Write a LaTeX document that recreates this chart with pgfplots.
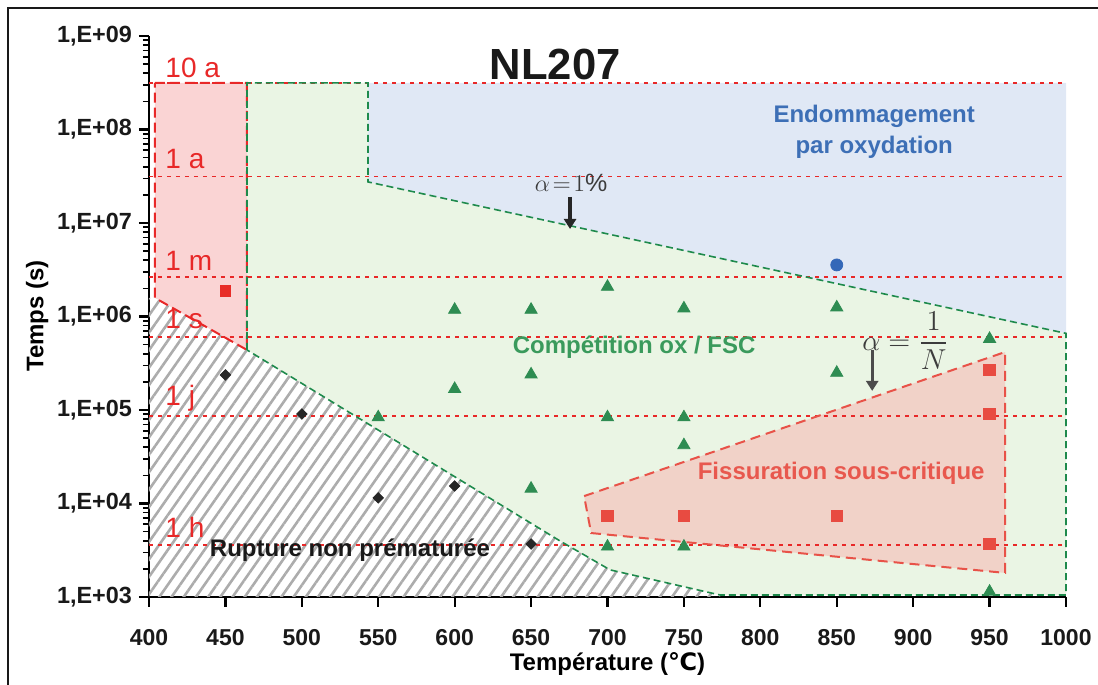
\documentclass[border=0pt]{standalone}
\usepackage{fontspec}
\setmainfont{Liberation Sans}
\newfontfamily\dejavu{DejaVu Sans}
\usepackage{amsmath}
\usepackage{pgfplots}
\pgfplotsset{compat=1.18}
\usetikzlibrary{patterns.meta,arrows.meta}

\definecolor{redline}{RGB}{232,40,40}
\definecolor{redfill}{RGB}{250,212,212}
\definecolor{greenfill}{RGB}{234,245,228}
\definecolor{bluefill}{RGB}{224,232,245}
\definecolor{fissfill}{RGB}{241,210,200}
\definecolor{fissline}{RGB}{232,82,72}
\definecolor{greenline}{RGB}{30,138,76}
\definecolor{greentext}{RGB}{58,154,92}
\definecolor{bluetext}{RGB}{61,111,182}
\definecolor{fisstext}{RGB}{232,88,78}
\definecolor{trigreen}{RGB}{46,140,82}
\definecolor{sqred}{RGB}{232,45,40}
\definecolor{sqred2}{RGB}{232,75,65}
\definecolor{dotblue}{RGB}{52,104,184}
\definecolor{hatchgray}{RGB}{172,172,172}
\definecolor{annot}{RGB}{60,60,60}

\tikzset{timelabel/.style={anchor=base west, text=redline, inner sep=0pt,
  font=\fontsize{14}{16}\selectfont}}
\pgfplotsset{timeline/.style={draw=redline, line width=0.9pt, dash pattern=on 2pt off 2.5pt}}

\begin{document}
\begin{tikzpicture}
\begin{axis}[
  scale only axis, width=458.5pt, height=280.5pt,
  xmin=400, xmax=1000, ymin=1e3, ymax=1e9, ymode=log,
  axis x line*=bottom, axis y line*=left,
  axis line style={line width=1.4pt, -},
  tick align=outside,
  major tick length=5pt, minor tick length=3pt,
  every tick/.style={black, line width=1.1pt},
  every minor tick/.style={line width=0.8pt},
  xtick={400,450,...,1000},
  xticklabels={400,450,500,550,600,650,700,750,800,850,900,950,1000},
  ytick={1e3,1e4,1e5,1e6,1e7,1e8,1e9},
  yticklabels={{1,E+03},{1,E+04},{1,E+05},{1,E+06},{1,E+07},{1,E+08},{1,E+09}},
  minor ytick={2e3,3e3,4e3,5e3,6e3,7e3,8e3,9e3,
    2e4,3e4,4e4,5e4,6e4,7e4,8e4,9e4,
    2e5,3e5,4e5,5e5,6e5,7e5,8e5,9e5,
    2e6,3e6,4e6,5e6,6e6,7e6,8e6,9e6,
    2e7,3e7,4e7,5e7,6e7,7e7,8e7,9e7,
    2e8,3e8,4e8,5e8,6e8,7e8,8e8,9e8},
  xticklabel style={font=\bfseries\fontsize{11.5}{13}\selectfont, text=black!90, yshift=-7.5pt},
  yticklabel style={font=\bfseries\fontsize{11.7}{13}\selectfont, text=black!90},
  xlabel={Température ({\dejavu ℃})},
  ylabel={Temps (s)},
  xlabel style={at={(axis description cs:0.5,-0.12)}, anchor=center,
    font=\bfseries\fontsize{12}{14}\selectfont},
  ylabel style={at={(axis description cs:-0.122,0.501)}, anchor=center,
    font=\bfseries\fontsize{12}{14}\selectfont},
  clip=false,
]

% zones
\addplot[draw=none, fill=greenfill] coordinates {
  (464.1,3.15e8) (543.3,3.15e8) (543.3,2.75e7) (1000,6.6e5) (1000,1.05e3)
  (773.7,1.05e3) (701.7,1.95e3) (669,3.97e3) (464.1,4.39e5)} -- cycle;
\addplot[draw=none, fill=bluefill] coordinates {
  (543.3,3.15e8) (1000,3.15e8) (1000,6.6e5) (543.3,2.75e7)} -- cycle;
\addplot[draw=none, fill=redfill] coordinates {
  (403.9,3.15e8) (464.1,3.15e8) (464.1,4.39e5) (403.9,1.58e6)} -- cycle;
\addplot[draw=none, pattern={Lines[angle=55,distance=5pt,line width=1.3pt]},
  pattern color=hatchgray] coordinates {
  (400,1e3) (400,1.58e6) (403.9,1.58e6) (464.1,4.39e5) (669,3.97e3)
  (701.7,1.95e3) (773.7,1.05e3) (773.7,1e3)} -- cycle;
\addplot[draw=none, fill=fissfill] coordinates {
  (684.7,1.2e4) (960.2,4.17e5) (960.2,1.81e3) (689.3,4.83e3)} -- cycle;

% 10 a, 1 a, 1 m, 1 s, 1 j, 1 h
\addplot[timeline] coordinates {(400,3.15e8) (1000,3.15e8)};
\addplot[timeline] coordinates {(400,3.15e7) (1000,3.15e7)};
\addplot[timeline] coordinates {(400,2.63e6) (1000,2.63e6)};
\addplot[timeline] coordinates {(400,6.05e5) (1000,6.05e5)};
\addplot[timeline] coordinates {(400,8.64e4) (1000,8.64e4)};
\addplot[timeline] coordinates {(400,3.6e3) (1000,3.6e3)};

% contours
\addplot[draw=redline, line width=1pt, dash pattern=on 5pt off 2.5pt] coordinates {
  (403.9,3.15e8) (464.1,3.15e8) (464.1,4.39e5) (403.9,1.58e6)} -- cycle;
\addplot[draw=fissline, line width=1pt, dash pattern=on 5pt off 3pt] coordinates {
  (684.7,1.2e4) (960.2,4.17e5) (960.2,1.81e3) (689.3,4.83e3)} -- cycle;
\addplot[draw=greenline, line width=0.8pt, dash pattern=on 3.5pt off 2pt] coordinates {
  (464.1,4.39e5) (464.1,3.15e8) (543.3,3.15e8) (543.3,2.75e7) (1000,6.6e5)
  (1000,1.05e3) (773.7,1.05e3) (701.7,1.95e3) (669,3.97e3) (464.1,4.39e5)};

% essais
\addplot[only marks, mark=square*, mark size=1.85pt, mark options={rotate=45},
  color=black!85] coordinates {
  (450,2.37e5) (500,9.06e4) (550,1.15e4) (600,1.54e4) (650,3.69e3)};
\addplot[only marks, mark=square*, mark size=2.7pt, color=sqred] coordinates {
  (450,1.87e6)};
\addplot[only marks, mark=square*, mark size=2.9pt, color=sqred2] coordinates {
  (700,7.35e3) (750,7.35e3) (850,7.35e3) (950,3.69e3) (950,9.06e4) (950,2.68e5)};
\addplot[only marks, mark=*, mark size=3pt, color=dotblue] coordinates {
  (850,3.56e6)};
\addplot[only marks, mark=triangle*, mark size=3.5pt, color=trigreen] coordinates {
  (550,8.35e4) (600,1.18e6) (600,1.68e5) (650,1.18e6) (650,2.4e5) (650,1.44e4)
  (700,2.08e6) (700,8.35e4) (700,3.46e3) (750,1.22e6) (750,8.35e4) (750,4.2e4)
  (750,3.46e3) (850,1.25e6) (850,2.5e5) (950,5.76e5) (950,1.14e3)};

% textes
\node[font=\bfseries\fontsize{21.8}{26}\selectfont, text=black!90]
  at (axis cs:665.7,4.9e8) {NL207};
\node[font=\bfseries\fontsize{12}{15.5}\selectfont, text=bluetext, align=center]
  at (axis cs:874.5,9.4e7) {Endommagement\\par oxydation};
\node[font=\bfseries\fontsize{12}{14}\selectfont, text=greentext]
  at (axis cs:717.4,4.72e5) {Compétition ox / FSC};
\node[font=\bfseries\fontsize{12}{14}\selectfont, text=fisstext]
  at (axis cs:852.9,2.12e4) {Fissuration sous-critique};
\node[font=\bfseries\fontsize{12}{14}\selectfont, text=black!90]
  at (axis cs:531.5,3.18e3) {Rupture non prématurée};

\node[timelabel] at (axis cs:410.5,3.56e8) {10 a};
\node[timelabel] at (axis cs:410.5,3.87e7) {1 a};
\node[timelabel] at (axis cs:410.5,3.14e6) {1 m};
\node[timelabel] at (axis cs:410.5,7.53e5) {1 s};
\node[timelabel] at (axis cs:410.5,1.13e5) {1 j};
\node[timelabel] at (axis cs:410.5,4.28e3) {1 h};

\node[text=annot, font=\fontsize{12.5}{14}\selectfont]
  at (axis cs:676.2,2.68e7) {$\alpha\!=\!1\%$};
\draw[-{Triangle[width=6pt,length=5pt]}, line width=1.6pt, draw=black!85]
  (axis cs:675.5,1.9e7) -- (axis cs:675.5,8.63e6);
\node[text=annot, font=\fontsize{13.5}{15}\selectfont]
  at (axis cs:895,5.47e5) {$\alpha=\dfrac{1}{N}$};
\draw[-{Triangle[width=6pt,length=5pt]}, line width=1.6pt, draw=black!70]
  (axis cs:873.2,4.39e5) -- (axis cs:873.2,1.6e5);
\end{axis}
% cadre de la figure
\draw[line width=1.2pt, black!90] (-70.5pt,-44pt) -- (-70.5pt,294.5pt) -- (474.5pt,294.5pt);
\pgfresetboundingbox
\path[use as bounding box] (-74.5pt,-44pt) rectangle (474.5pt,298.5pt);
\end{tikzpicture}
\end{document}
